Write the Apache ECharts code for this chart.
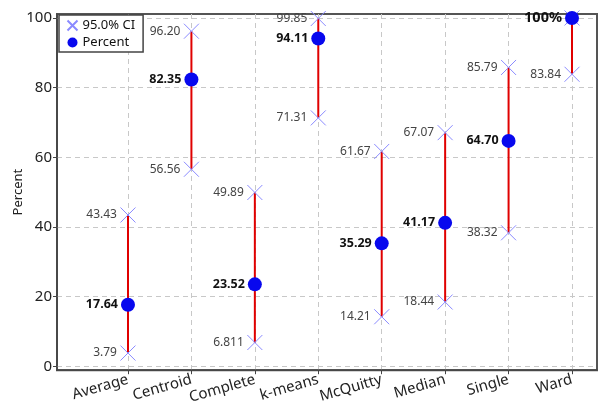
<!DOCTYPE html>
<html><head><meta charset="utf-8">
<script src="https://cdn.jsdelivr.net/npm/echarts@6/dist/echarts.min.js"></script>
<style>html,body{margin:0;padding:0;background:#fff}#c{width:601px;height:406px}</style>
</head><body><div id="c"></div>
<script>
const categories = ['Average','Centroid','Complete','k-means','McQuitty','Median','Single','Ward'];
const percent = [17.64, 82.35, 23.52, 94.11, 35.29, 41.17, 64.70, 100];
const percentLabels = ['17.64','82.35','23.52','94.11','35.29','41.17','64.70','100%'];
const ciLower = [3.79, 56.56, 6.811, 71.31, 14.21, 18.44, 38.32, 83.84];
const ciUpper = [43.43, 96.20, 49.89, 99.85, 61.67, 67.07, 85.79, 100];
const ciLowerLabels = ['3.79','56.56','6.811','71.31','14.21','18.44','38.32','83.84'];
const ciUpperLabels = ['43.43','96.20','49.89','99.85','61.67','67.07','85.79',''];
const yTicks = [0, 20, 40, 60, 80, 100];

const FONT = 'Noto Sans';
const idx = categories.map((_, i) => i);

const ciData = [];
categories.forEach((c, i) => {
  ciData.push({ value: [i, ciLower[i]], label: { formatter: ciLowerLabels[i] } });
  ciData.push({ value: [i, ciUpper[i]], label: { formatter: ciUpperLabels[i] } });
});
const ptData = categories.map((c, i) => {
  const d = { value: [i, percent[i]], label: { formatter: percentLabels[i] } };
  if (percentLabels[i].indexOf('%') >= 0) d.label.fontSize = 14.5;
  return d;
});
const rangeData = categories.map((c, i) => [i, ciLower[i], ciUpper[i]]);

const chart = echarts.init(document.getElementById('c'), null, { renderer: 'canvas' });
chart.setOption({
  animation: false,
  textStyle: { fontFamily: FONT },
  grid: { left: 57, right: 4, top: 14, bottom: 34, show: true, borderColor: '#555', borderWidth: 2 },
  legend: {
    orient: 'vertical', left: 59, top: 15,
    backgroundColor: '#fff',
    borderColor: '#444', borderWidth: 1.5, borderRadius: 0,
    padding: [3, 8, 3, 6], itemGap: 3, itemWidth: 10, itemHeight: 10,
    textStyle: { fontFamily: FONT, fontSize: 13, color: '#111' },
    data: [
      { name: '95.0% CI' },
      { name: 'Percent', icon: 'circle', itemStyle: { color: '#0808ee', opacity: 1 } }
    ]
  },
  xAxis: {
    type: 'value', min: -1.119, max: 7.394,
    axisLine: { show: true, onZero: false, lineStyle: { color: '#444', width: 1.5 } },
    axisTick: { show: true, customValues: idx, length: 4, lineStyle: { color: '#444' } },
    axisLabel: {
      customValues: idx, rotate: 16, margin: 9,
      fontSize: 15, color: '#222', fontFamily: FONT,
      formatter: v => categories[Math.round(v)] || ''
    },
    splitLine: { show: true, lineStyle: { color: '#c8c8c8', type: [5, 4], width: 1 } }
  },
  yAxis: {
    type: 'value', min: -1.14, max: 101.14,
    name: 'Percent', nameLocation: 'middle', nameGap: 32, nameMoveOverlap: false,
    nameTextStyle: { fontSize: 13, color: '#222', fontFamily: FONT },
    axisLine: { show: true, onZero: false, lineStyle: { color: '#444', width: 1.5 } },
    axisTick: { show: true, customValues: yTicks, length: 4, lineStyle: { color: '#444' } },
    axisLabel: { customValues: yTicks, fontSize: 15, color: '#222', margin: 5, fontFamily: FONT },
    splitLine: { show: true, lineStyle: { color: '#c8c8c8', type: [5, 4], width: 1 } }
  },
  series: [
    {
      type: 'custom', name: 'range', silent: true, z: 1,
      data: rangeData,
      encode: { x: 0, y: [1, 2] },
      renderItem: (params, api) => {
        const a = api.coord([api.value(0), api.value(1)]);
        const b = api.coord([api.value(0), api.value(2)]);
        return { type: 'line', shape: { x1: a[0], y1: a[1], x2: b[0], y2: b[1] },
                 style: { stroke: '#e00000', lineWidth: 2 } };
      }
    },
    {
      type: 'scatter', name: '95.0% CI', z: 2,
      symbol: 'path://M0,0L10,10M10,0L0,10', symbolSize: 15,
      itemStyle: { color: 'none', borderColor: '#8a8aff', borderWidth: 1, opacity: 1 },
      label: { show: true, position: 'left', distance: 1, fontSize: 12, color: '#444', fontFamily: FONT },
      data: ciData
    },
    {
      type: 'scatter', name: 'Percent', z: 3,
      symbol: 'circle', symbolSize: 14,
      itemStyle: { color: '#0808ee', opacity: 1 },
      label: { show: true, position: 'left', distance: 3, fontSize: 12.5, fontWeight: 'bold', color: '#111', fontFamily: FONT },
      data: ptData
    }
  ]
});
</script>
</body></html>
